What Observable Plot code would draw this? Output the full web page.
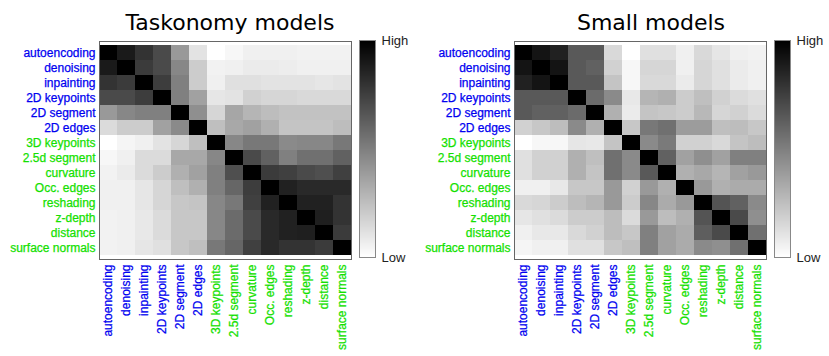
<!DOCTYPE html>
<html>
<head>
<meta charset="utf-8">
<script src="https://cdn.jsdelivr.net/npm/d3@7"></script>
<script src="https://cdn.jsdelivr.net/npm/@observablehq/plot@0.6"></script>
<style>
  html, body { margin: 0; padding: 0; background: #fff; }
  #wrap { position: relative; width: 829px; height: 356px; overflow: hidden; }
  .title { position: absolute; top: 8px; font-family: "DejaVu Sans", sans-serif; font-size: 22px; color: #000; transform: translateX(-50%); white-space: nowrap; line-height: 30px; }
</style>
</head>
<body>
<div id="wrap"></div>
<script>
// Categories (rows / columns)
const categories = ["autoencoding", "denoising", "inpainting", "2D keypoints", "2D segment", "2D edges",
  "3D keypoints", "2.5d segment", "curvature", "Occ. edges", "reshading", "z-depth", "distance", "surface normals"];
const blueCategories = categories.slice(0, 6);
const greenCategories = categories.slice(6);

// Similarity (0 = low / white, 1 = high / black), rows in category order
const taskonomy = [
  [1, .90, .80, .71, .40, .11, 0, .03, .06, .06, .06, .05, .05, .05],
  [.90, 1, .77, .71, .47, .20, .05, .06, .08, .08, .07, .06, .06, .06],
  [.80, .77, 1, .76, .50, .20, .06, .12, .12, .11, .11, .11, .10, .11],
  [.71, .71, .76, 1, .50, .37, .10, .11, .18, .16, .16, .15, .15, .15],
  [.40, .47, .50, .50, 1, .44, .16, .35, .29, .26, .24, .24, .24, .24],
  [.14, .20, .20, .37, .46, 1, .25, .34, .37, .31, .23, .23, .23, .26],
  [0, .04, .06, .11, .16, .25, 1, .47, .53, .53, .46, .47, .47, .53],
  [.03, .06, .14, .14, .34, .34, .47, 1, .71, .62, .50, .56, .56, .62],
  [.05, .08, .14, .20, .31, .37, .50, .69, 1, .77, .75, .71, .69, .75],
  [.06, .06, .10, .16, .25, .31, .50, .60, .76, 1, .87, .84, .84, .84],
  [.06, .06, .10, .16, .22, .23, .47, .53, .75, .87, 1, .87, .87, .80],
  [.05, .06, .09, .14, .22, .22, .47, .58, .71, .84, .87, 1, .88, .80],
  [.05, .06, .09, .14, .22, .22, .47, .58, .71, .84, .87, .88, 1, .77],
  [.05, .06, .10, .12, .22, .25, .53, .60, .75, .84, .80, .80, .77, 1]
];
const small = [
  [1, .92, .87, .65, .65, .15, 0, .12, .12, .06, .15, .10, .06, .05],
  [.92, 1, .92, .65, .62, .18, .03, .16, .16, .06, .16, .12, .08, .06],
  [.87, .92, 1, .65, .65, .23, .03, .15, .15, .08, .16, .12, .08, .06],
  [.65, .65, .65, 1, .58, .46, .09, .29, .31, .20, .25, .18, .14, .12],
  [.65, .62, .62, .58, 1, .31, .08, .23, .22, .20, .28, .16, .18, .14],
  [.18, .22, .26, .46, .31, 1, .22, .53, .56, .39, .39, .25, .26, .22],
  [0, .03, .03, .10, .09, .23, 1, .46, .52, .18, .18, .15, .23, .26],
  [.12, .18, .18, .31, .25, .56, .46, 1, .62, .37, .44, .37, .50, .50],
  [.12, .18, .18, .31, .23, .56, .46, .65, 1, .31, .34, .29, .37, .40],
  [.06, .06, .09, .22, .22, .40, .18, .40, .31, 1, .40, .31, .33, .33],
  [.15, .16, .20, .26, .29, .40, .20, .47, .33, .40, 1, .67, .62, .46],
  [.10, .12, .14, .20, .20, .26, .14, .40, .26, .31, .67, 1, .71, .44],
  [.06, .09, .09, .15, .18, .26, .22, .50, .37, .33, .63, .71, 1, .56],
  [.04, .06, .06, .12, .12, .22, .25, .50, .37, .33, .46, .44, .56, 1]
];
const titles = ["Taskonomy models", "Small models"];
const colorbarLabels = ["High", "Low"];

const BLUE = "#0000f0";
const GREEN = "#14e000";
const labelFont = "Liberation Sans, Arial, sans-serif";
const grayScale = {type: "linear", domain: [0, 1], range: ["white", "black"]};

function toTable(m) {
  const out = [];
  m.forEach((row, i) => row.forEach((v, j) => out.push({row: categories[i], col: categories[j], v})));
  return out;
}

function labelMarks(list, color) {
  const common = {fill: color, stroke: color, strokeWidth: 0.25, fontSize: 12};
  return [
    Plot.text(list, {y: d => d, frameAnchor: "left", textAnchor: "end", dx: -4, ...common}),
    Plot.text(list, {x: d => d, frameAnchor: "bottom", rotate: -90, textAnchor: "end", lineAnchor: "middle", dy: 5, ...common})
  ];
}

function heatmap(m) {
  return Plot.plot({
    width: 359, height: 356,
    marginLeft: 99, marginRight: 8, marginTop: 41, marginBottom: 97,
    style: {fontFamily: labelFont, fontSize: "12px", background: "transparent"},
    x: {domain: categories, padding: 0, axis: null},
    y: {domain: categories, padding: 0, axis: null},
    color: grayScale,
    marks: [
      Plot.cell(toTable(m), {x: "col", y: "row", fill: "v", inset: 0, shapeRendering: "crispEdges"}),
      Plot.frame({stroke: "#666", strokeWidth: 1}),
      ...labelMarks(blueCategories, BLUE),
      ...labelMarks(greenCategories, GREEN)
    ]
  });
}

function colorbar(width) {
  const gradient = Plot.raster
    ? Plot.raster({fill: (x, y) => y, x1: 0, x2: 1, y1: 0, y2: 1, width: 1, height: 256, imageRendering: "auto"})
    : Plot.rect(d3.range(0, 1, 1 / 217), {x1: 0, x2: 1, y1: d => d, y2: d => Math.min(1, d + 1.5 / 217), fill: d => d, shapeRendering: "crispEdges"});
  return Plot.plot({
    width, height: 356,
    marginLeft: 14, marginRight: width - 30, marginTop: 40, marginBottom: 99,
    style: {fontFamily: labelFont, fontSize: "12px", background: "transparent"},
    x: {domain: [0, 1], axis: null},
    y: {domain: [0, 1], axis: null},
    color: grayScale,
    marks: [
      gradient,
      Plot.frame({stroke: "#888", strokeWidth: 1}),
      Plot.text([colorbarLabels[0]], {x: 1, y: 1, dx: 6, textAnchor: "start", fill: "#222", fontSize: 13}),
      Plot.text([colorbarLabels[1]], {x: 1, y: 0, dx: 6, textAnchor: "start", fill: "#222", fontSize: 13})
    ]
  });
}

const wrap = document.getElementById("wrap");
function place(node, left) { node.style.position = "absolute"; node.style.left = left + "px"; node.style.top = "0px"; wrap.appendChild(node); }

place(heatmap(taskonomy), 0);
place(colorbar(70), 345);
place(heatmap(small), 415);
place(colorbar(69), 760);

[[titles[0], 230], [titles[1], 651]].forEach(([t, cx]) => {
  const d = document.createElement("div");
  d.className = "title";
  d.textContent = t;
  d.style.left = cx + "px";
  wrap.appendChild(d);
});
</script>
</body>
</html>
